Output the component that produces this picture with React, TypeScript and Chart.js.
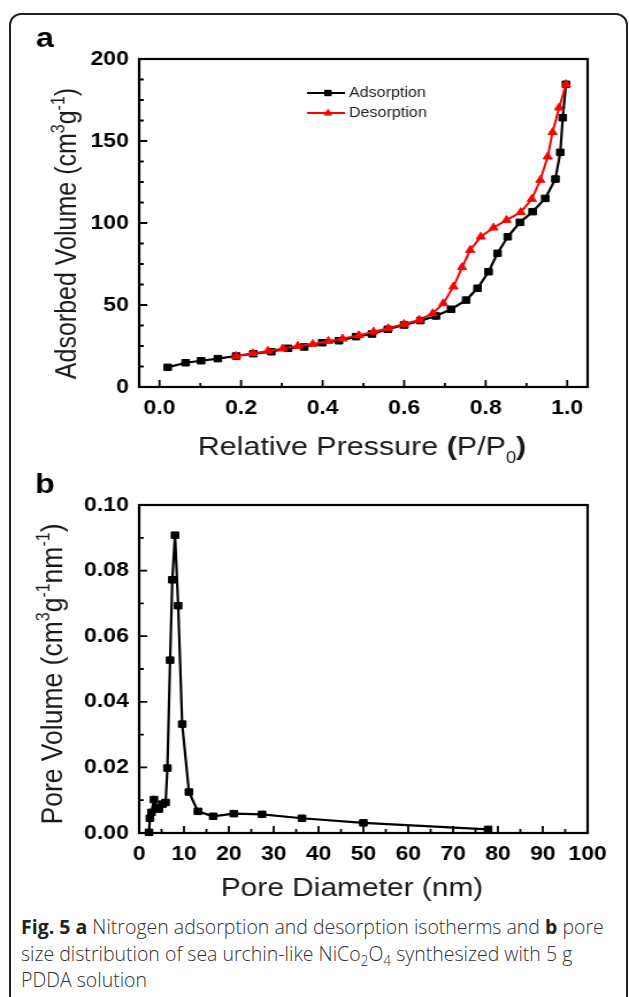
import React, { useEffect, useRef } from "react";
import { Chart, registerables } from "chart.js";

Chart.register(...registerables);

// The reference figure is horizontally stretched; canvases are drawn narrower and shown at full width.
const SX = 1.15;
const PAGE_W = 629;
const CW = Math.round(PAGE_W / SX);
const FONT = "'Liberation Sans', Arial, Helvetica, sans-serif";
const px = (pageX: number) => pageX / SX;

// ---------- Panel a: N2 adsorption / desorption isotherm ----------
const adsorptionP = [0.02, 0.064, 0.102, 0.143, 0.188, 0.23, 0.274, 0.315, 0.355, 0.399, 0.44, 0.482, 0.521, 0.56, 0.6, 0.64, 0.678, 0.715, 0.752, 0.78, 0.807, 0.829, 0.854, 0.884, 0.915, 0.946, 0.971, 0.983, 0.989, 0.997];
const adsorptionV = [12.0, 14.8, 16.0, 17.3, 18.9, 20.3, 21.5, 23.6, 24.4, 27.0, 28.2, 30.7, 32.3, 35.2, 37.8, 40.5, 43.3, 47.4, 53.0, 60.2, 70.3, 81.5, 91.6, 100.4, 106.9, 115.0, 126.8, 143.1, 164.2, 184.6];
const desorptionP = [0.188, 0.229, 0.266, 0.302, 0.339, 0.376, 0.414, 0.449, 0.489, 0.525, 0.561, 0.6, 0.637, 0.67, 0.696, 0.721, 0.742, 0.762, 0.788, 0.819, 0.851, 0.886, 0.913, 0.934, 0.952, 0.964, 0.98, 0.997];
const desorptionV = [18.9, 20.5, 22.0, 23.4, 25.0, 26.2, 28.0, 29.5, 31.5, 33.7, 35.8, 38.4, 40.9, 44.9, 51.0, 61.2, 73.0, 83.5, 91.6, 97.1, 101.8, 106.6, 114.6, 126.2, 140.4, 155.3, 170.3, 184.6];
const aXTicks = [0, 0.2, 0.4, 0.6, 0.8, 1.0];
const aXMinor = [0.1, 0.3, 0.5, 0.7, 0.9];
const aYTicks = [0, 50, 100, 150, 200];
const aYMinor = [12.5, 25, 37.5, 62.5, 75, 87.5, 112.5, 125, 137.5, 162.5, 175, 187.5];

// ---------- Panel b: pore size distribution ----------
const poreD = [2.2, 2.4, 2.75, 3.3, 3.9, 4.4, 5.2, 5.9, 6.3, 6.9, 7.4, 8.0, 8.7, 9.6, 11.1, 13.1, 16.5, 21.1, 27.4, 36.3, 50.0, 77.8];
const poreV = [0.0002, 0.0045, 0.0063, 0.0102, 0.0078, 0.0073, 0.0088, 0.0093, 0.0198, 0.0527, 0.0772, 0.0908, 0.0693, 0.0332, 0.0125, 0.0066, 0.0051, 0.0059, 0.0057, 0.0045, 0.0031, 0.0011];
const bXTicks = [0, 10, 20, 30, 40, 50, 60, 70, 80, 90, 100];
const bXMinor = [5, 15, 25, 35, 45, 55, 65, 75, 85, 95];
const bYTicks = [0, 0.02, 0.04, 0.06, 0.08, 0.1];
const bYMinor = [0.01, 0.03, 0.05, 0.07, 0.09];

type Part = { t: string; sup?: boolean; sub?: boolean; bold?: boolean };
type TextItem = { parts: Part[]; size: number; x: number; y: number; rotate?: boolean; align?: "center" | "left"; color?: string };
type LegendItem = { label: string; color: string; marker: "rect" | "triangle"; y: number };

function drawParts(ctx: CanvasRenderingContext2D, item: TextItem) {
  const { parts, size } = item;
  const fontOf = (p: Part) => `${p.bold ? "bold " : ""}${p.sup || p.sub ? Math.round(size * 0.62) : size}px ${FONT}`;
  const widths = parts.map((p) => {
    ctx.font = fontOf(p);
    return ctx.measureText(p.t).width;
  });
  const total = widths.reduce((a, b) => a + b, 0);
  ctx.save();
  ctx.translate(item.x, item.y);
  if (item.rotate) ctx.rotate(-Math.PI / 2);
  ctx.fillStyle = item.color || "#111";
  ctx.textBaseline = "alphabetic";
  ctx.textAlign = "left";
  let x = item.align === "left" ? 0 : -total / 2;
  parts.forEach((p, i) => {
    ctx.font = fontOf(p);
    const dy = p.sup ? -size * 0.4 : p.sub ? size * 0.3 : 0;
    ctx.fillText(p.t, x, dy);
    x += widths[i];
  });
  ctx.restore();
}

const framePlugin = {
  id: "frame",
  afterDatasetsDraw(chart: any, _args: any, o: any) {
    const { ctx, chartArea } = chart;
    const { left, right, top, bottom } = chartArea;
    const xs = chart.scales.x;
    const ys = chart.scales.y;
    ctx.save();
    ctx.strokeStyle = "#000";
    ctx.lineWidth = 2.2;
    ctx.strokeRect(left, top, right - left, bottom - top);
    ctx.lineWidth = 1.8;
    ctx.beginPath();
    const xt = (vals: number[], len: number) =>
      vals.forEach((v) => {
        const p = xs.getPixelForValue(v);
        ctx.moveTo(p, bottom);
        ctx.lineTo(p, bottom - len);
      });
    const yt = (vals: number[], len: number) =>
      vals.forEach((v) => {
        const p = ys.getPixelForValue(v);
        ctx.moveTo(left, p);
        ctx.lineTo(left + len, p);
      });
    xt(o.xMajor, 7);
    xt(o.xMinor, 4);
    yt(o.yMajor, 7);
    yt(o.yMinor, 4);
    ctx.stroke();
    ctx.restore();
  },
};

const textPlugin = {
  id: "texts",
  afterDraw(chart: any, _args: any, o: any) {
    const ctx: CanvasRenderingContext2D = chart.ctx;
    (o.items as TextItem[]).forEach((it) => drawParts(ctx, it));
    const lg = o.legend as { x1: number; x2: number; mx: number; tx: number; size: number; items: LegendItem[] } | undefined;
    if (lg) {
      lg.items.forEach((li) => {
        ctx.save();
        ctx.strokeStyle = li.color;
        ctx.fillStyle = li.color;
        ctx.lineWidth = 2.2;
        ctx.beginPath();
        ctx.moveTo(lg.x1, li.y);
        ctx.lineTo(lg.x2, li.y);
        ctx.stroke();
        ctx.beginPath();
        if (li.marker === "rect") {
          ctx.rect(lg.mx - 3.2, li.y - 3.2, 6.4, 6.4);
        } else {
          ctx.moveTo(lg.mx, li.y - 4.6);
          ctx.lineTo(lg.mx + 4, li.y + 2.4);
          ctx.lineTo(lg.mx - 4, li.y + 2.4);
          ctx.closePath();
        }
        ctx.fill();
        ctx.fillStyle = "#222";
        ctx.font = `${lg.size}px ${FONT}`;
        ctx.textBaseline = "middle";
        ctx.textAlign = "left";
        ctx.fillText(li.label, lg.tx, li.y + 0.5);
        ctx.restore();
      });
    }
  },
};

function axisX(min: number, max: number, ticks: number[], height: number, fmt: (v: number) => string) {
  return {
    type: "linear",
    min,
    max,
    afterBuildTicks: (s: any) => {
      s.ticks = ticks.map((v) => ({ value: v }));
    },
    afterFit: (s: any) => {
      s.height = height;
    },
    grid: { display: false, drawTicks: false },
    border: { display: false },
    ticks: {
      font: { family: FONT, size: 20, weight: "bold" },
      color: "#000",
      padding: 9,
      maxRotation: 0,
      autoSkip: false,
      callback: (v: any) => fmt(Number(v)),
    },
  };
}

function axisY(min: number, max: number, ticks: number[], width: number, fmt: (v: number) => string) {
  return {
    type: "linear",
    min,
    max,
    afterBuildTicks: (s: any) => {
      s.ticks = ticks.map((v) => ({ value: v }));
    },
    afterFit: (s: any) => {
      s.width = width;
    },
    grid: { display: false, drawTicks: false },
    border: { display: false },
    ticks: {
      font: { family: FONT, size: 20, weight: "bold" },
      color: "#000",
      padding: 9,
      autoSkip: false,
      callback: (v: any) => fmt(Number(v)),
    },
  };
}

const A_TOP = 14;
const A_H = 456;
const B_TOP = 470;
const B_H = 440;
const Y_AXIS_W = 121;
const RIGHT_PAD = CW - 511;

function configA(): any {
  return {
    type: "line",
    data: {
      datasets: [
        {
          label: "Desorption",
          data: desorptionP.map((x, i) => ({ x, y: desorptionV[i] })),
          borderColor: "#ff0000",
          backgroundColor: "#ff0000",
          pointStyle: "triangle",
          pointRadius: 4.6,
          pointBorderWidth: 1,
          borderWidth: 2,
          order: 0,
          clip: false,
        },
        {
          label: "Adsorption",
          data: adsorptionP.map((x, i) => ({ x, y: adsorptionV[i] })),
          borderColor: "#000",
          backgroundColor: "#000",
          pointStyle: "rect",
          pointRadius: 4.6,
          pointBorderWidth: 1,
          borderWidth: 2.2,
          order: 1,
          clip: false,
        },
      ],
    },
    options: {
      responsive: false,
      maintainAspectRatio: false,
      animation: false,
      devicePixelRatio: 1,
      events: [],
      layout: { padding: { left: 0, right: RIGHT_PAD, top: 59 - A_TOP, bottom: 0 } },
      scales: {
        x: axisX(-0.05, 1.05, aXTicks, A_H - (387 - A_TOP), (v) => v.toFixed(1)),
        y: axisY(0, 200, aYTicks, Y_AXIS_W, (v) => String(v)),
      },
      plugins: {
        legend: { display: false },
        tooltip: { enabled: false },
        frame: { xMajor: aXTicks, xMinor: aXMinor, yMajor: aYTicks, yMinor: aYMinor },
        texts: {
          items: [
            { parts: [{ t: "a", bold: true }], size: 28, x: px(36), y: 47 - A_TOP, align: "left", color: "#000" },
            {
              parts: [{ t: "Adsorbed Volume (cm" }, { t: "3", sup: true }, { t: "g" }, { t: "-1", sup: true }, { t: ")" }],
              size: 25,
              x: px(76),
              y: 233.5 - A_TOP,
              rotate: true,
              color: "#1a1a1a",
            },
            {
              parts: [
                { t: "Relative Pressure " },
                { t: "(", bold: true },
                { t: "P/P" },
                { t: "0", sub: true },
                { t: ")", bold: true },
              ],
              size: 26.5,
              x: px(362),
              y: 455 - A_TOP,
              color: "#1a1a1a",
            },
          ],
          legend: {
            x1: px(307),
            x2: px(345),
            mx: px(328),
            tx: px(349),
            size: 14,
            items: [
              { label: "Adsorption", color: "#000", marker: "rect", y: 93 - A_TOP },
              { label: "Desorption", color: "#ff0000", marker: "triangle", y: 113 - A_TOP },
            ],
          },
        },
      },
    },
    plugins: [framePlugin, textPlugin],
  };
}

function configB(): any {
  return {
    type: "line",
    data: {
      datasets: [
        {
          label: "Pore volume",
          data: poreD.map((x, i) => ({ x, y: poreV[i] })),
          borderColor: "#000",
          backgroundColor: "#000",
          pointStyle: "rect",
          pointRadius: 4.6,
          pointBorderWidth: 1,
          borderWidth: 2.2,
          clip: false,
        },
      ],
    },
    options: {
      responsive: false,
      maintainAspectRatio: false,
      animation: false,
      devicePixelRatio: 1,
      events: [],
      layout: { padding: { left: 0, right: RIGHT_PAD, top: 505 - B_TOP, bottom: 0 } },
      scales: {
        x: axisX(0, 100, bXTicks, B_H - (833 - B_TOP), (v) => String(v)),
        y: axisY(0, 0.1, bYTicks, Y_AXIS_W, (v) => v.toFixed(2)),
      },
      plugins: {
        legend: { display: false },
        tooltip: { enabled: false },
        frame: { xMajor: bXTicks, xMinor: bXMinor, yMajor: bYTicks, yMinor: bYMinor },
        texts: {
          items: [
            { parts: [{ t: "b", bold: true }], size: 28, x: px(35), y: 493 - B_TOP, align: "left", color: "#000" },
            {
              parts: [
                { t: "Pore Volume (cm" },
                { t: "3", sup: true },
                { t: "g" },
                { t: "-1", sup: true },
                { t: "nm" },
                { t: "-1", sup: true },
                { t: ")" },
              ],
              size: 26.5,
              x: px(62),
              y: 674 - B_TOP,
              rotate: true,
              color: "#1a1a1a",
            },
            { parts: [{ t: "Pore Diameter (nm)" }], size: 26, x: px(352), y: 896 - B_TOP, color: "#1a1a1a" },
          ],
        },
      },
    },
    plugins: [framePlugin, textPlugin],
  };
}

function Panel({ top, height, build }: { top: number; height: number; build: () => any }) {
  const ref = useRef<HTMLCanvasElement | null>(null);
  useEffect(() => {
    const c = ref.current;
    if (!c) return;
    const chart = new Chart(c, build());
    return () => chart.destroy();
  }, [build]);
  return (
    <canvas
      ref={ref}
      width={CW}
      height={height}
      style={{ position: "absolute", left: 0, top, width: PAGE_W, height }}
    />
  );
}

export default function App() {
  return (
    <div style={{ position: "absolute", left: 0, top: 0, width: PAGE_W, height: 997, overflow: "hidden", background: "#fff" }}>
      <div
        style={{
          position: "absolute",
          left: 9,
          top: 13,
          width: 619,
          height: 1100,
          boxSizing: "border-box",
          border: "2px solid #222",
          borderRadius: 12,
        }}
      />
      <Panel top={A_TOP} height={A_H} build={configA} />
      <Panel top={B_TOP} height={B_H} build={configB} />
      <div
        style={{
          position: "absolute",
          left: 21,
          top: 914,
          fontFamily: "'Open Sans', 'Noto Sans', sans-serif",
          fontSize: 19.5,
          lineHeight: "26.5px",
          fontWeight: 300,
          color: "#333",
          whiteSpace: "nowrap",
        }}
      >
        <b style={{ fontWeight: 700, color: "#222" }}>Fig. 5 a</b> Nitrogen adsorption and desorption isotherms and{" "}
        <b style={{ fontWeight: 700, color: "#222" }}>b</b> pore
        <br />
        size distribution of sea urchin-like NiCo<sub style={{ fontSize: "0.7em", lineHeight: 0 }}>2</sub>O
        <sub style={{ fontSize: "0.7em", lineHeight: 0 }}>4</sub> synthesized with 5 g
        <br />
        PDDA solution
      </div>
    </div>
  );
}
